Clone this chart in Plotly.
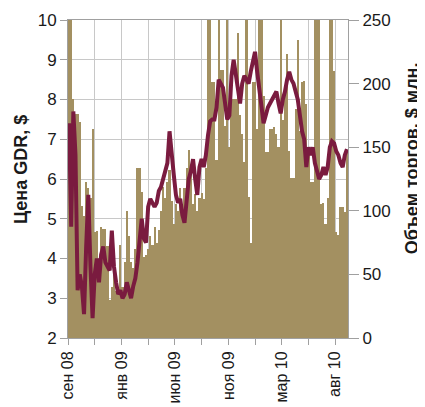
import plotly.graph_objects as go

# trading-day index (step 4 days), centre of each bar
day_index = [4 * k + 2 for k in range(131)]

# GDR price, $
price = [
    7.4, 4.8, 7.7, 6.6, 3.2, 3.6, 3.3, 2.6, 4.3, 5.6,
    3.8, 2.5, 3.6, 4.0, 3.4, 4.1, 4.3, 3.9, 3.8, 3.7,
    4.7, 3.8, 3.4, 3.1, 3.2, 3.0, 3.1, 3.4, 3.2, 3.0,
    3.3, 3.5, 3.9, 4.5, 5.0, 4.5, 4.4, 5.3, 5.5, 5.4,
    5.3, 5.4, 5.7, 5.8, 6.0, 6.2, 6.4, 7.2, 6.5, 6.1,
    5.6, 5.4, 5.5, 5.1, 4.9, 5.6, 6.0, 6.2, 6.5, 6.0,
    5.6, 6.3, 6.5, 6.3, 6.6, 7.1, 7.45, 7.5, 7.5, 7.8,
    8.5, 8.4, 8.3, 7.9, 7.5, 7.6, 8.6, 9.0, 8.6, 8.2,
    7.9, 8.4, 8.6, 8.5, 8.4, 8.7, 9.0, 9.2, 8.7, 8.3,
    7.8, 7.4, 7.6, 7.8, 7.9, 8.0, 8.1, 8.2, 7.9, 7.65,
    8.0, 8.2, 8.5, 8.7, 8.5, 8.4, 8.2, 8.0, 7.6, 7.2,
    7.0, 6.3, 6.8, 6.6, 6.8, 6.4, 6.2, 6.0, 6.1, 6.3,
    6.1, 6.3, 6.8, 6.95, 6.9, 6.7, 6.6, 6.4, 6.3, 6.6,
    6.75,
]

# trading volume, $ mln
volume = [
    255, 255, 188, 176, 176, 170, 104, 96, 123, 118,
    110, 164, 83, 84, 60, 87, 86, 86, 72, 30,
    40, 55, 37, 40, 73, 40, 60, 100, 80, 60,
    55, 70, 134, 134, 115, 64, 65, 70, 80, 73,
    87, 75, 85, 100, 119, 110, 123, 132, 108, 90,
    105, 100, 118, 95, 118, 134, 148, 130, 105, 113,
    100, 110, 114, 109, 134, 255, 255, 201, 201, 140,
    255, 211, 211, 167, 255, 150, 188, 188, 188, 240,
    175, 160, 138, 255, 111, 75, 201, 201, 164, 255,
    255, 190, 146, 146, 164, 164, 166, 160, 150, 255,
    171, 196, 223, 147, 126, 126, 180, 234, 163, 201,
    202, 184, 150, 123, 123, 255, 255, 255, 105, 106,
    90, 110, 255, 255, 210, 83, 81, 103, 103, 99,
    148,
]

tick_positions = [0, 50, 100, 150, 200, 250, 300, 350, 400, 450, 500]
tick_labels = ["сен 08", "", "янв 09", "", "июн 09", "", "ноя 09", "", "мар 10", "", "авг 10"]

left_title = "Цена GDR, $"
right_title = "Объем торгов, $ млн."

BAR = "#A39061"
LINE = "#7A1B3F"
GRID = "#c8c8c8"
AXIS = "#a0a0a0"
TXT = "#1a1a1a"
FONT = "Liberation Sans"

fig = go.Figure()
fig.add_trace(go.Bar(
    x=day_index, y=volume, width=4, yaxis="y",
    marker=dict(color=BAR, line=dict(width=0)), showlegend=False,
))
fig.add_trace(go.Scatter(
    x=day_index, y=price, yaxis="y2", mode="lines",
    line=dict(color=LINE, width=4), showlegend=False,
))

# the page body has an 8px margin, so the figure is 8px smaller than the window
fig.update_layout(
    width=417, height=399,
    margin=dict(l=60, r=77, t=12, b=69, autoexpand=False),
    paper_bgcolor="white", plot_bgcolor="white",
    bargap=0,
    font=dict(family=FONT, color=TXT, size=17),
    xaxis=dict(
        range=[0, 524], tickvals=tick_positions, ticktext=tick_labels,
        tickangle=-90, tickfont=dict(size=16), automargin=False,
        ticks="outside", ticklen=6, tickcolor=AXIS,
        showgrid=True, gridcolor=GRID, gridwidth=1,
        showline=True, linecolor=AXIS, mirror=True, zeroline=False,
    ),
    yaxis=dict(
        side="right", range=[0, 250], dtick=50, automargin=False,
        ticks="outside", ticklen=10, tickcolor=AXIS,
        showgrid=False, zeroline=False,
        showline=True, linecolor=AXIS, mirror=True,
    ),
    yaxis2=dict(
        overlaying="y", side="left", range=[2, 10], dtick=1, automargin=False,
        ticks="outside", ticklen=7, tickcolor=AXIS,
        showgrid=True, gridcolor=GRID, gridwidth=1, zeroline=False,
        showline=False,
    ),
    annotations=[
        dict(text="<b>" + left_title + "</b>", xref="paper", yref="paper",
             x=-0.168, y=0.531, xanchor="center", yanchor="middle",
             textangle=-90, showarrow=False, font=dict(size=18, color=TXT)),
        dict(text="<b>" + right_title + "</b>", xref="paper", yref="paper",
             x=1.229, y=0.566, xanchor="center", yanchor="middle",
             textangle=-90, showarrow=False, font=dict(size=18, color=TXT)),
    ],
)

fig.write_html("out.html")
